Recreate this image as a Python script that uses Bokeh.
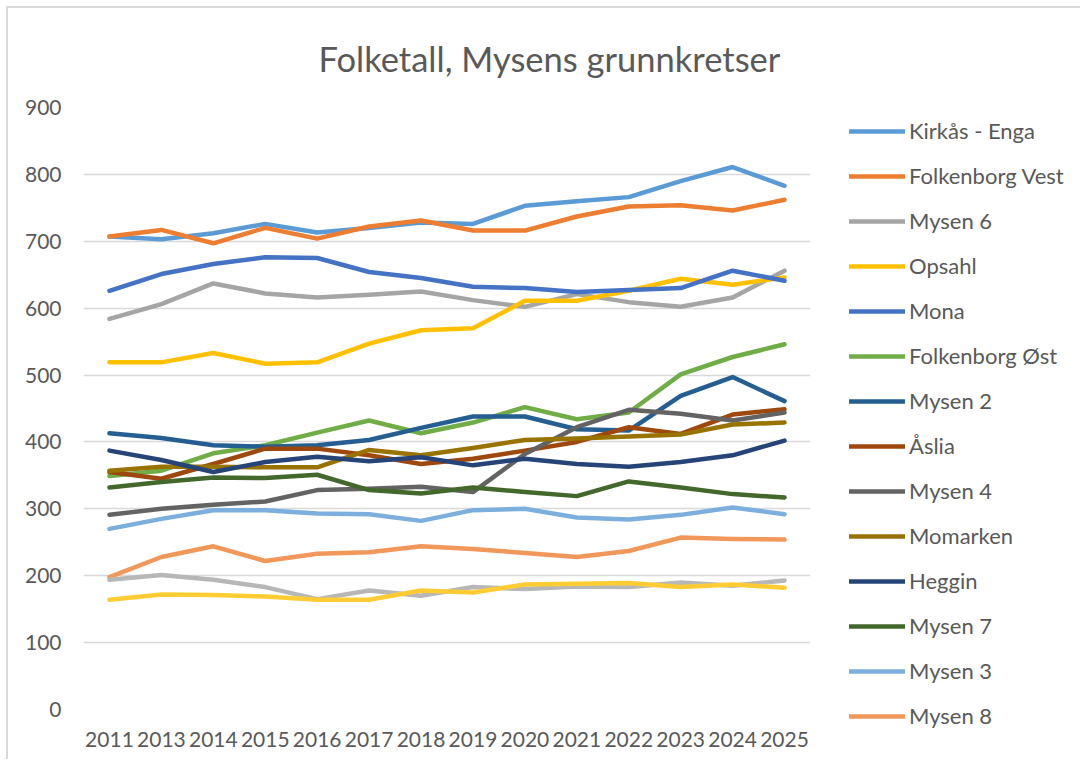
from bokeh.plotting import figure
from bokeh.models import FactorRange, Range1d, Legend, LegendItem, SingleIntervalTicker
from bokeh.embed import file_html
from bokeh.resources import INLINE

years = ["2011", "2013", "2014", "2015", "2016", "2017", "2018", "2019",
         "2020", "2021", "2022", "2023", "2024", "2025"]

kirkas_enga = [707, 703, 712, 726, 713, 720, 728, 726, 753, 760, 766, 790, 811, 783]
folkenborg_vest = [707, 717, 697, 720, 704, 722, 731, 716, 716, 737, 752, 754, 746, 762]
mysen_6 = [584, 606, 637, 622, 616, 620, 625, 612, 602, 621, 609, 602, 616, 656]
opsahl = [519, 519, 533, 517, 519, 547, 567, 570, 611, 611, 626, 644, 635, 646]
mona = [626, 651, 666, 676, 675, 654, 645, 632, 630, 624, 627, 630, 656, 641]
folkenborg_ost = [349, 357, 383, 395, 414, 432, 413, 429, 452, 434, 444, 501, 527, 546]
mysen_2 = [413, 406, 395, 393, 395, 403, 421, 438, 438, 419, 417, 469, 497, 461]
aslia = [355, 345, 367, 390, 390, 380, 367, 375, 387, 400, 422, 412, 441, 449]
mysen_4 = [291, 300, 306, 311, 328, 330, 333, 325, 382, 422, 448, 442, 432, 444]
momarken = [357, 363, 363, 362, 362, 388, 380, 391, 403, 405, 408, 411, 426, 429]
heggin = [387, 373, 355, 370, 378, 371, 377, 365, 375, 367, 363, 370, 380, 402]
mysen_7 = [332, 340, 347, 346, 351, 328, 323, 332, 325, 319, 341, 332, 322, 317]
mysen_3 = [270, 285, 298, 298, 293, 292, 282, 298, 300, 287, 284, 291, 302, 292]
mysen_8 = [198, 228, 244, 222, 233, 235, 244, 240, 234, 228, 237, 257, 255, 254]
series_15 = [194, 201, 194, 183, 165, 178, 170, 183, 180, 184, 183, 190, 185, 193]
series_16 = [164, 172, 171, 169, 164, 164, 178, 175, 187, 188, 189, 183, 187, 182]

names = ["Kirkås - Enga", "Folkenborg Vest", "Mysen 6", "Opsahl", "Mona",
         "Folkenborg Øst", "Mysen 2", "Åslia", "Mysen 4", "Momarken", "Heggin",
         "Mysen 7", "Mysen 3", "Mysen 8", "Serie 15", "Serie 16"]
values = [kirkas_enga, folkenborg_vest, mysen_6, opsahl, mona, folkenborg_ost,
          mysen_2, aslia, mysen_4, momarken, heggin, mysen_7, mysen_3, mysen_8,
          series_15, series_16]
colors = ["#5B9BD5", "#ED7D31", "#A5A5A5", "#FFC000", "#4472C4", "#70AD47",
          "#255E91", "#9E480E", "#636363", "#997300", "#264478", "#43682B",
          "#7CAFDD", "#F1975A", "#B7B7B7", "#FFCD33"]
legend_count = 14

FONT = "Lato"
GREY = "#595959"

p = figure(frame_width=727, frame_height=602, output_backend="svg", toolbar_location=None,
           x_range=FactorRange(*years, range_padding=0, factor_padding=0),
           y_range=Range1d(0, 900),
           min_border_left=75, min_border_right=0,
           min_border_top=99, min_border_bottom=50)

p.title.text = "Folketall, Mysens grunnkretser"
p.title.align = "left"
p.title.offset = 235
p.title.vertical_align = "middle"
p.title.text_font = FONT
p.title.text_font_size = "34.5px"
p.title.text_font_style = "normal"
p.title.text_color = GREY
p.title.standoff = 56

p.outline_line_color = None
p.background_fill_color = "white"
p.border_fill_color = "white"

p.xgrid.grid_line_color = None
p.ygrid.grid_line_color = "#D9D9D9"
p.ygrid.grid_line_width = 1.3
p.yaxis.ticker = SingleIntervalTicker(interval=100)

for ax in (p.xaxis[0], p.yaxis[0]):
    ax.axis_line_color = None
    ax.major_tick_line_color = None
    ax.minor_tick_line_color = None
    ax.major_label_text_font = FONT
    ax.major_label_text_font_size = "21px"
    ax.major_label_text_color = GREY
p.yaxis.major_label_standoff = 16
p.xaxis.major_label_standoff = 16

items = []
for i, (nm, vals, col) in enumerate(zip(names, values, colors)):
    r = p.line(x=years, y=vals, line_color=col, line_width=4.5,
               line_cap="round", line_join="round")
    if i < legend_count:
        items.append(LegendItem(label=nm, renderers=[r]))

legend = Legend(items=items, location=(39, -20), orientation="vertical",
                label_text_font=FONT, label_text_font_size="22px",
                label_text_color=GREY, glyph_width=56, glyph_height=24,
                label_height=24, spacing=18, label_standoff=4,
                padding=0, margin=0, border_line_color=None,
                background_fill_alpha=0)
p.add_layout(legend, "right")

p.styles = {"margin-left": "6px", "margin-top": "6px",
            "border-left": "2px solid #D9D9D9", "border-top": "2px solid #D9D9D9"}

open("out.html", "w").write(file_html(p, INLINE))
